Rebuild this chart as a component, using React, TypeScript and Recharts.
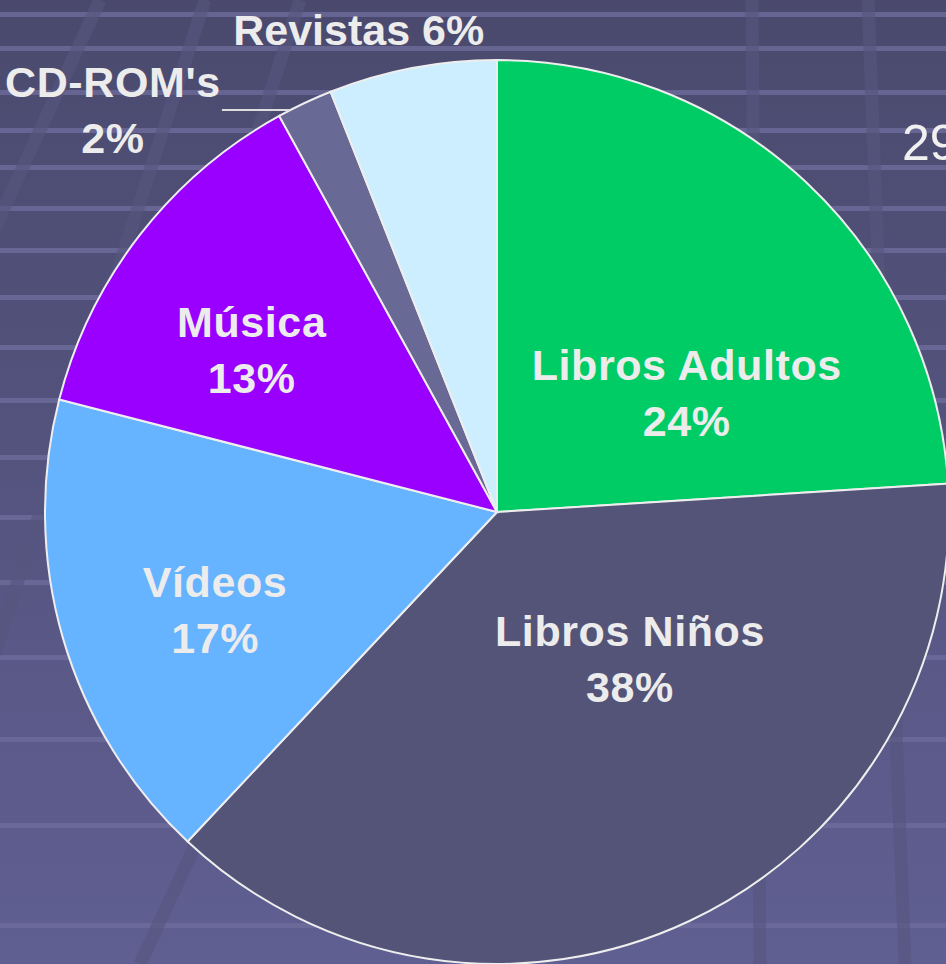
import { PieChart, Pie, Cell } from 'recharts';

const categories = ['Libros Adultos', 'Libros Niños', 'Vídeos', 'Música', "CD-ROM's", 'Revistas'];
const shares = [24, 38, 17, 13, 2, 6];
const sliceColors = ['#00cc66', '#545479', '#66b3ff', '#9900ff', '#696996', '#cceeff'];

const data = categories.map((name, i) => ({ name, value: shares[i] }));

const W = 946;
const H = 964;
const RADIAN = Math.PI / 180;
const TEXT = '#ececec';
const FONT = '"Liberation Sans", Arial, sans-serif';

// label placement: radius factor + angle shift from the slice's mid angle
const LABEL_LAYOUT: Record<string, { rf: number; shift: number; inline?: boolean; leader?: boolean }> = {
  'Libros Adultos': { rf: 0.495, shift: -14.8 },
  'Libros Niños': { rf: 0.438, shift: 17 },
  'Vídeos': { rf: 0.66, shift: 2.9 },
  'Música': { rf: 0.65, shift: 4.4 },
  "CD-ROM's": { rf: 1.23, shift: 18.5, leader: true },
  'Revistas': { rf: 1.11, shift: 5.2, inline: true },
};

// background stripes (decoration of the slide template)
const stripeYs = [12, 46, 90, 128, 165, 206, 248, 295, 345, 398, 455, 515, 580, 655, 737, 823, 923];
const bands = [
  [100, 0, -20, 260],
  [205, 0, -30, 730],
  [300, 0, 120, 560],
  [300, 620, 140, 964],
  [752, 0, 760, 964],
  [868, 0, 905, 964],
];

function renderLabel(p: any) {
  const cfg = LABEL_LAYOUT[p.name];
  if (!cfg) return null;
  const ang = (p.midAngle + cfg.shift) * RADIAN;
  const r = p.outerRadius * cfg.rf;
  const x = p.cx + r * Math.cos(ang);
  const y = p.cy - r * Math.sin(ang);
  const pct = `${Math.round(p.percent * 100)}%`;
  const common = {
    fill: TEXT,
    fontFamily: FONT,
    fontWeight: 700,
    fontSize: 43,
    textAnchor: 'middle' as const,
  };
  if (cfg.inline) {
    return (
      <text x={x} y={y + 15} {...common}>
        {`${p.name} ${pct}`}
      </text>
    );
  }
  let leader = null;
  if (cfg.leader) {
    const dy = y - p.cy;
    const x2 = p.cx - Math.sqrt(p.outerRadius * p.outerRadius - dy * dy);
    leader = <line x1={x + 109} y1={y} x2={x2} y2={y} stroke="#dddddd" strokeWidth={2} />;
  }
  return (
    <g>
      {leader}
      <text x={x} y={y - 13} {...common} letterSpacing={0.6}>
        {p.name}
      </text>
      <text x={x} y={y + 43} {...common} letterSpacing={0.6}>
        {pct}
      </text>
    </g>
  );
}

export default function App() {
  return (
    <div style={{ position: 'relative', width: W, height: H, overflow: 'hidden' }}>
      <style>{'body{margin:0}'}</style>
      <svg width={W} height={H} style={{ position: 'absolute', left: 0, top: 0 }}>
        <defs>
          <linearGradient id="bg" x1="0" y1="0" x2="0" y2="1">
            <stop offset="0%" stopColor="#4a496d" />
            <stop offset="100%" stopColor="#605f92" />
          </linearGradient>
        </defs>
        <rect x={0} y={0} width={W} height={H} fill="url(#bg)" />
        {stripeYs.map((y, i) => (
          <rect key={i} x={0} y={y} width={W} height={5} fill="#6d6c9b" opacity={0.8} />
        ))}
        {bands.map(([x1, y1, x2, y2], i) => (
          <line key={i} x1={x1} y1={y1} x2={x2} y2={y2} stroke="#57567f" strokeWidth={13} opacity={0.6} />
        ))}
        <text x={902} y={160} fill="#f0f0f0" fontFamily={FONT} fontSize={50}>
          29%
        </text>
      </svg>
      <div style={{ position: 'absolute', left: 0, top: 0 }}>
        <PieChart
          width={W}
          height={H}
          margin={{ top: 0, right: 0, bottom: 0, left: 0 }}
          style={{ overflow: 'visible' }}
        >
          <Pie
            data={data}
            dataKey="value"
            nameKey="name"
            cx={497}
            cy={512}
            innerRadius={0}
            outerRadius={452}
            startAngle={90}
            endAngle={-270}
            stroke="#eeeeee"
            strokeWidth={2}
            label={renderLabel}
            labelLine={false}
            isAnimationActive={false}
          >
            {data.map((_, i) => (
              <Cell key={`slice-${i}`} fill={sliceColors[i]} />
            ))}
          </Pie>
        </PieChart>
      </div>
    </div>
  );
}
